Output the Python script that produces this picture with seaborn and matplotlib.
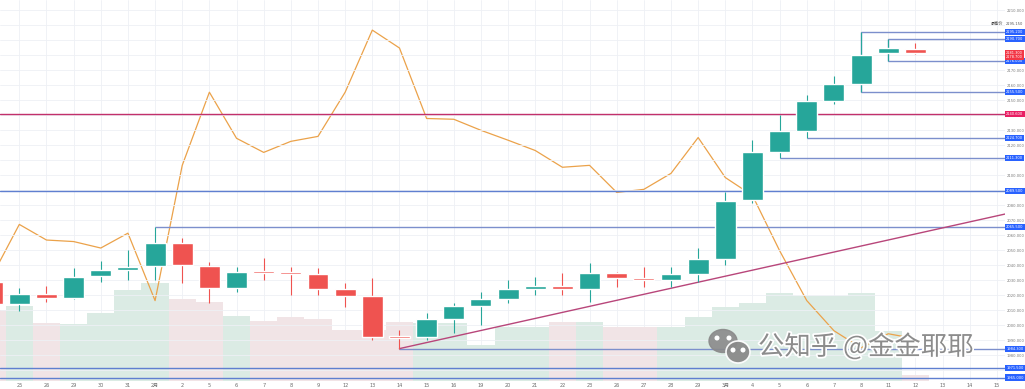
import numpy as np
import pandas as pd
import matplotlib
matplotlib.use("Agg")
import matplotlib.pyplot as plt
import matplotlib.transforms as mtransforms
import matplotlib.patheffects as pe
from matplotlib.patches import Ellipse, Circle
import seaborn as sns

# daily candles, index -1 = Jan 24 (cut off at the left edge)
idx = list(range(-1, 34))
opens = [2028.9, 2013.8, 2020.5, 2018.2, 2032.5, 2036.5, 2039.3, 2054.5, 2039.3, 2024.7,
         2036.0, 2035.1, 2033.8, 2023.8, 2019.5, 1992.7, 1991.8, 2003.8, 2012.7, 2017.5,
         2024.2, 2026.0, 2024.2, 2034.9, 2031.3, 2030.0, 2034.0, 2044.0, 2083.3, 2115.3,
         2129.3, 2149.3, 2160.7, 2181.3, 2184.3]
highs = [2031.3, 2024.7, 2026.0, 2038.0, 2042.7, 2050.0, 2065.5, 2058.0, 2042.2, 2038.9,
         2044.7, 2038.9, 2038.0, 2028.0, 2031.3, 1996.7, 2008.0, 2014.7, 2022.2, 2030.0,
         2032.2, 2034.7, 2041.3, 2035.5, 2038.9, 2038.9, 2051.3, 2088.9, 2123.3, 2140.0,
         2153.3, 2166.0, 2195.2, 2190.7, 2188.0]
lows = [2010.0, 2009.3, 2015.5, 2017.3, 2028.7, 2030.0, 2030.0, 2028.0, 2014.7, 2022.2,
        2030.0, 2020.0, 2020.0, 2012.0, 1990.0, 1984.3, 1990.0, 1994.7, 2000.0, 2014.7,
        2020.0, 2020.0, 2015.5, 2025.5, 2025.5, 2025.5, 2028.9, 2040.0, 2081.3, 2111.3,
        2124.7, 2147.3, 2155.5, 2176.0, 2180.7]
closes = [2014.0, 2020.5, 2018.2, 2032.2, 2036.5, 2038.9, 2054.5, 2040.0, 2024.7, 2035.5,
          2034.7, 2033.8, 2023.8, 2019.5, 1992.2, 1991.5, 2003.8, 2012.7, 2017.3, 2023.8,
          2026.0, 2024.2, 2034.9, 2031.1, 2030.0, 2033.8, 2044.0, 2082.9, 2115.3, 2129.3,
          2149.3, 2160.7, 2180.0, 2184.7, 2181.3]
volumes = [71, 75, 58, 57, 68, 91, 98, 82, 79, 65, 60, 64, 62, 51, 51, 59, 58, 58, 36, 54,
           54, 59, 59, 54, 54, 54, 64, 74, 78, 88, 85, 85, 88, 50, 6]
osc = [27.6, 41.1, 37.0, 36.6, 34.9, 38.8, 21.1, 56.6, 75.8, 63.7, 60.0, 62.9, 64.2, 75.8,
       92.1, 87.4, 68.9, 68.7, 65.8, 63.2, 60.5, 56.1, 56.6, 49.5, 50.3, 54.5, 63.9, 53.4,
       48.7, 34.2, 21.1, 13.2, 8.7, 12.4, 11.1]

tick_idx = list(range(0, 37))
tick_labels = ["25", "26", "29", "30", "31", "2月", "2", "5", "6", "7", "8", "9", "12", "13",
               "14", "15", "16", "19", "20", "21", "22", "23", "26", "27", "28", "29", "3月",
               "4", "5", "6", "7", "8", "11", "12", "13", "14", "15"]

# horizontal levels
full_levels = [2140.6, 2089.5, 1971.5, 1965.0]
full_colors = ["#c2306b", "#5f7fd0", "#5f7fd0", "#5f7fd0"]
ray_levels = [2195.2, 2155.5, 2190.7, 2176.0, 2124.7, 2111.3, 2065.5, 1984.3]
ray_start = [31, 31, 32, 32, 29, 28, 5, 14]
bracket_idx = [31, 32]
trend_x = [14, 36.3]
trend_y = [1984.3, 2074.0]

tags = [(2195.2, "#2962ff"), (2190.7, "#2962ff"), (2176.0, "#2962ff"), (2155.5, "#2962ff"),
        (2140.6, "#e91e63"), (2124.7, "#2962ff"), (2111.3, "#2962ff"), (2089.5, "#2962ff"),
        (2065.5, "#2962ff"), (1984.3, "#2962ff"), (1971.5, "#2962ff"), (1965.0, "#2962ff")]
last_price = 2181.3
high_note = 2200.8

df = pd.DataFrame({"idx": idx, "open": opens, "high": highs, "low": lows,
                   "close": closes, "vol": volumes, "osc": osc})
df["dir"] = np.where(df["close"] >= df["open"], "up", "down")

sns.set_style("white")
plt.rcParams["font.family"] = ["DejaVu Sans", "Noto Sans CJK SC"]

W, H = 1025, 389
fig = plt.figure(figsize=(W / 100, H / 100), dpi=100)
ax_vol = fig.add_axes([0, 8 / H, 1005 / W, 381 / H])
ax_osc = ax_vol.twinx()
ax = ax_vol.twinx()

GREEN, RED = "#26a69a", "#ef5350"

# volume
sns.barplot(data=df, x="idx", y="vol", hue="dir", palette={"up": "#d9ede4", "down": "#f3e2e5"},
            native_scale=True, width=1, dodge=False, errorbar=None, legend=False,
            ax=ax_vol, linewidth=0)
ax_vol.set_ylim(0, 381)
ax_vol.set_xlim(-0.711, 36.3)
ax_vol.set_xticks(tick_idx)
ax_vol.set_xticklabels(tick_labels)
ax_vol.tick_params(axis="x", labelsize=3.6, colors="#6b6b6b", length=0, pad=1.5)
ax_vol.set_yticks([])
ax_vol.grid(axis="x", color="#eef0f5", lw=0.6)
ax_vol.set_axisbelow(True)
ax_vol.set_xlabel("")
ax_vol.set_ylabel("")

# oscillator line
sns.lineplot(data=df, x="idx", y="osc", color="#eba24a", lw=0.9, ax=ax_osc)
ax_osc.set_ylim(0, 100)
ax_osc.set_yticks([])
ax_osc.set_ylabel("")

# price
ax.set_ylim(1962.7, 2216.7)
ax.set_xlim(-0.711, 36.3)
tag_vals = [t[0] for t in tags] + [last_price, last_price - 2.6, high_note]
grid_vals = np.arange(1970, 2220, 10)
ax.set_yticks(grid_vals)
ax.yaxis.set_major_formatter(matplotlib.ticker.FuncFormatter(
    lambda v, p: "" if min(abs(v - t) for t in tag_vals) < 3.2 else f"{v:.3f}"))
ax.tick_params(axis="y", labelsize=2.7, colors="#7a7a7a", length=0, pad=1.2)
ax.grid(axis="y", color="#eef0f5", lw=0.6)

for v, c in zip(full_levels, full_colors):
    ax.axhline(v, color=c, lw=1, zorder=2)
for v, s in zip(ray_levels, ray_start):
    ax.hlines(v, s, 40, color="#7c8fcc", lw=1, zorder=2)
for b in bracket_idx:
    ax.vlines(b, df.loc[df.idx == b, "low"], df.loc[df.idx == b, "high"],
              color="#7c8fcc", lw=1, zorder=2)
ax.plot(trend_x, trend_y, color="#b8467a", lw=1, zorder=2)

cols = np.where(df["dir"] == "up", GREEN, RED)
ax.vlines(df["idx"], df["low"], df["high"], colors=cols, lw=0.8, zorder=3)
body_lo = np.minimum(df["open"], df["close"])
body_h = np.maximum(np.abs(df["close"] - df["open"]), 1.0)
ax.bar(df["idx"], body_h, bottom=body_lo, width=0.77, color=cols, zorder=4)

for a in (ax_vol, ax_osc, ax):
    for sp in a.spines.values():
        sp.set_visible(False)

# price tags on the right scale
tr = mtransforms.blended_transform_factory(ax.transAxes, ax.transData)
for v, c in tags:
    ax.text(1.0012, v, f"{v:.3f}", transform=tr, fontsize=2.6, color="white", va="center",
            ha="left", bbox=dict(boxstyle="square,pad=0.3", fc=c, ec="none"), clip_on=False,
            zorder=10)
ax.text(1.0012, last_price - 1.3, f"{last_price:.3f}\n{last_price - 2.6:.3f}", transform=tr,
        fontsize=2.5, color="white", va="center", ha="left", linespacing=1.0,
        bbox=dict(boxstyle="square,pad=0.3", fc="#f23645", ec="none"), clip_on=False, zorder=10)
ax.text(0.9985, high_note, "最高价", transform=tr, fontsize=3.0, color="#444444", va="center",
        ha="right", family=["Noto Sans CJK SC", "DejaVu Sans"], zorder=10)
ax.text(1.0012, high_note, "2195.150", transform=tr, fontsize=2.6, color="#555555",
        va="center", ha="left", clip_on=False, zorder=10)

# watermark
wm = fig.add_axes([0, 0, 1, 1], zorder=20)
wm.set_xlim(0, W)
wm.set_ylim(H, 0)
wm.axis("off")
wm.patch.set_alpha(0)
wm.add_patch(Ellipse((723, 341), 28, 23, color="#8a8a8a", alpha=0.9))
wm.add_patch(Ellipse((738, 352), 24, 22, fc="#8a8a8a", ec="white", lw=1.2, alpha=0.95))
for px, py in [(717, 338), (729, 338), (733, 350), (743, 350)]:
    wm.add_patch(Circle((px, py), 1.8, color="white"))
wm.text(758, 347, "公知乎 @金金耶耶", fontsize=19, color="#8c8c8c", va="center", ha="left",
        family=["Noto Sans CJK SC", "DejaVu Sans"],
        path_effects=[pe.withStroke(linewidth=2.5, foreground="white")])

fig.savefig("out.png", dpi=100)
